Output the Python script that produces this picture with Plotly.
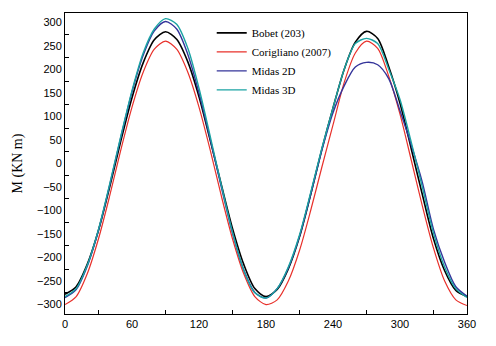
import plotly.graph_objects as go

theta = list(range(0, 361, 10))

bobet = [-278, -262, -214, -142, -50, 48, 140, 214, 263, 280, 264, 216, 142, 50, -45, -138, -214, -266, -283,
         -268, -224, -156, -66, 30, 118, 200, 258, 281, 266, 205, 128, 32, -66, -160, -228, -270, -283]
corigliano = [-300, -283, -234, -160, -69, 29, 120, 194, 243, 260, 243, 194, 120, 29, -69, -160, -234, -283, -300,
              -290, -250, -185, -100, -8, 82, 172, 235, 260, 245, 185, 105, 8, -90, -180, -250, -290, -302]
midas2d = [-285, -268, -218, -142, -46, 56, 152, 230, 282, 302, 286, 232, 150, 52, -50, -148, -226, -274, -286,
           -266, -222, -155, -66, 28, 108, 165, 205, 215, 210, 180, 112, 40, -40, -140, -210, -262, -282]
midas3d = [-283, -266, -216, -140, -44, 58, 155, 235, 286, 308, 296, 245, 160, 58, -46, -146, -226, -275, -286,
           -266, -220, -152, -62, 32, 118, 200, 255, 266, 255, 200, 136, 46, -50, -148, -220, -266, -285]

series = [
    ("Bobet (203)", bobet, "#000000", 1.6),
    ("Corigliano (2007)", corigliano, "#e8302a", 1.2),
    ("Midas 2D", midas2d, "#34349a", 1.4),
    ("Midas 3D", midas3d, "#1aa3a3", 1.4),
]

xlabels = [0, 60, 120, 180, 240, 300, 360]
ylabels = list(range(-300, 301, 50))

fig = go.Figure()
for name, vals, color, w in series:
    fig.add_trace(go.Scatter(x=theta, y=vals, mode="lines", name=name,
                             line=dict(color=color, width=w, shape="spline", smoothing=0.8)))

fig.update_layout(
    width=496, height=346,
    margin=dict(l=57, r=37, t=5, b=40, autoexpand=False),
    paper_bgcolor="white", plot_bgcolor="white",
    showlegend=True,
    legend=dict(x=0.365, y=0.982, xanchor="left", yanchor="top",
                font=dict(family="Liberation Serif", size=11, color="black"),
                bgcolor="rgba(0,0,0,0)", borderwidth=0, tracegroupgap=0),
    annotations=[dict(text="M (KN m)", xref="paper", yref="paper", x=-0.117, y=0.5,
                      xanchor="center", yanchor="middle", textangle=-90, showarrow=False,
                      font=dict(family="Liberation Serif", size=14, color="black"))],
)
fig.update_xaxes(range=[0, 360], tickvals=xlabels, ticks="", showgrid=False, zeroline=False,
                 automargin=False,
                 showline=True, linecolor="black", linewidth=1, mirror=True,
                 tickfont=dict(family="Liberation Sans", size=11, color="black"),
                 minor=dict(tickvals=[30, 90, 150, 210, 270, 330], ticks="inside", ticklen=4,
                            tickcolor="black", showgrid=False))
fig.update_yaxes(range=[-320, 320], tickvals=ylabels, ticks="", showgrid=False, zeroline=False,
                 automargin=False,
                 showline=True, linecolor="black", linewidth=1, mirror=True,
                 tickfont=dict(family="Liberation Sans", size=11, color="black"),
                 minor=dict(tickvals=[v + 25 for v in ylabels[:-1]], ticks="inside", ticklen=4,
                            tickcolor="black", showgrid=False))

fig.write_html("out.html")
